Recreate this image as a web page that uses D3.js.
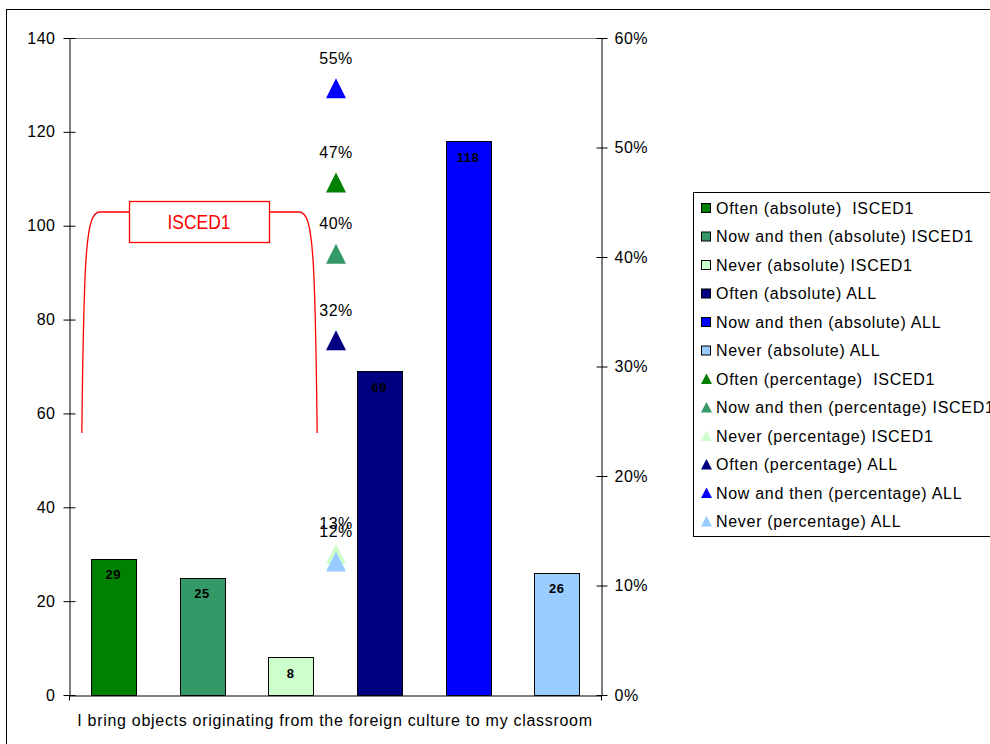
<!DOCTYPE html>
<html>
<head>
<meta charset="utf-8">
<script src="https://cdn.jsdelivr.net/npm/d3@7/dist/d3.min.js"></script>
<style>
  html, body { margin: 0; padding: 0; background: #fff; }
  svg { display: block; }
</style>
</head>
<body>
<script>
// Survey item shown on the category axis
const categories = ["I bring objects originating from the foreign culture to my classroom"];

// Absolute answers (bars, left axis)
const barSeries = [
  "Often (absolute)  ISCED1",
  "Now and then (absolute) ISCED1",
  "Never (absolute) ISCED1",
  "Often (absolute) ALL",
  "Now and then (absolute) ALL",
  "Never (absolute) ALL"
];
const barValues = [29, 25, 8, 69, 118, 26];
const barColors = ["#008000", "#339966", "#CCFFCC", "#000080", "#0000FF", "#99CCFF"];

// Shares of answers (triangles, right axis)
const pctSeries = [
  "Often (percentage)  ISCED1",
  "Now and then (percentage) ISCED1",
  "Never (percentage) ISCED1",
  "Often (percentage) ALL",
  "Now and then (percentage) ALL",
  "Never (percentage) ALL"
];
const pctValues = [0.468, 0.403, 0.129, 0.324, 0.554, 0.122];
const pctColors = ["#008000", "#339966", "#CCFFCC", "#000080", "#0000FF", "#99CCFF"];

// Axis ticks
const leftTicks = [0, 20, 40, 60, 80, 100, 120, 140];
const rightTicks = [0, 0.1, 0.2, 0.3, 0.4, 0.5, 0.6];

// Bracket note over the ISCED1 bars
const noteText = "ISCED1";

const W = 990, H = 744;
const font = "'Liberation Sans', Arial, sans-serif";
const spacing = "0.7px";
const plot = { left: 69, right: 601, top: 38, bottom: 695 };

const svg = d3.select("body").append("svg")
  .attr("width", W).attr("height", H)
  .style("font-family", font);

// Chart frame
svg.append("rect")
  .attr("x", 6.5).attr("y", 9.5)
  .attr("width", 1100).attr("height", 900)
  .attr("fill", "#fff").attr("stroke", "#000").attr("stroke-width", 1);

// Scales
const x0 = d3.scaleBand().domain(categories).range([plot.left, plot.right]).padding(0);
const pad = 1 - 45 / ((plot.right - plot.left) / barSeries.length);
const x1 = d3.scaleBand().domain(barSeries).range([0, x0.bandwidth()])
  .paddingInner(pad).paddingOuter(pad / 2);
const y = d3.scaleLinear().domain([0, 140]).range([plot.bottom, plot.top]);
const yp = d3.scaleLinear().domain([0, 0.6]).range([plot.bottom, plot.top]);

// Plot area top edge
svg.append("line")
  .attr("x1", plot.left).attr("x2", plot.right)
  .attr("y1", plot.top + 0.5).attr("y2", plot.top + 0.5)
  .attr("stroke", "#808080");

// Bars
const cat = categories[0];
const bars = barSeries.map((s, i) => ({ s, v: barValues[i], c: barColors[i] }));
svg.append("g").selectAll("rect").data(bars).join("rect")
  .attr("x", d => Math.round(x0(cat) + x1(d.s)) + 0.5)
  .attr("y", d => Math.round(y(d.v)) + 0.5)
  .attr("width", Math.round(x1.bandwidth()))
  .attr("height", d => Math.round(y(0)) - Math.round(y(d.v)))
  .attr("fill", d => d.c)
  .attr("stroke", "#000").attr("stroke-width", 1);

svg.append("g").selectAll("text").data(bars).join("text")
  .attr("x", d => x0(cat) + x1(d.s) + x1.bandwidth() / 2)
  .attr("y", d => y(d.v) + 20.5)
  .attr("text-anchor", "middle")
  .attr("font-size", 13).attr("font-weight", "bold")
  .attr("letter-spacing", "0.5px")
  .attr("fill", "#000")
  .text(d => d.v);

// Left axis
const gL = svg.append("g")
  .attr("transform", `translate(${plot.left + 0.5},0)`)
  .call(d3.axisLeft(y).tickValues(leftTicks).tickSize(6).tickPadding(8).tickSizeOuter(0));
gL.selectAll(".tick line").attr("x1", 6);
gL.selectAll("text").attr("font-size", 16).attr("font-family", font)
  .attr("letter-spacing", "0.5px").attr("fill", "#000");
gL.select(".domain").attr("stroke", "#000");

// Right axis
const gR = svg.append("g")
  .attr("transform", `translate(${plot.right + 0.5},0)`)
  .call(d3.axisRight(yp).tickValues(rightTicks).tickFormat(d3.format(".0%"))
    .tickSize(6).tickPadding(7).tickSizeOuter(0));
gR.selectAll(".tick line").attr("x1", -5);
gR.selectAll("text").attr("font-size", 16).attr("font-family", font)
  .attr("letter-spacing", "0.5px").attr("fill", "#000");

// Category axis
const gB = svg.append("g")
  .attr("transform", `translate(0,${plot.bottom + 0.5})`)
  .call(d3.axisBottom(x0).tickSize(0).tickPadding(19).tickSizeOuter(5));
gB.selectAll("text").attr("font-size", 16).attr("font-family", font)
  .attr("letter-spacing", spacing).attr("fill", "#000");
gB.select(".domain").attr("stroke", "#000");

// Percentage triangles with labels
const tri = "M0,-10L10,10L-10,10Z";
const pts = pctSeries.map((s, i) => ({ s, v: pctValues[i], c: pctColors[i] }));
const cx = x0(cat) + x0.bandwidth() / 2 + 1;
const gP = svg.append("g");
pts.forEach(d => {
  gP.append("path")
    .attr("d", tri)
    .attr("transform", `translate(${cx},${yp(d.v)})`)
    .attr("fill", d.c);
  gP.append("text")
    .attr("x", cx).attr("y", yp(d.v) - 30)
    .attr("dy", "0.35em")
    .attr("text-anchor", "middle")
    .attr("font-size", 16).attr("letter-spacing", "0.5px").attr("fill", "#000")
    .text(d3.format(".0%")(d.v));
});

// ISCED1 bracket
const bxL = x0(cat) + x1(barSeries[0]) - 9;
const bxR = x0(cat) + x1(barSeries[2]) + x1.bandwidth() + 4;
const byTop = 212, byBot = 433;
const gN = svg.append("g");
gN.append("path")
  .attr("d", `M${bxL},${byBot} C${bxL + 2},${byTop + 40} ${bxL + 4},${byTop} ${bxL + 18},${byTop} L${bxR - 18},${byTop} C${bxR - 4},${byTop} ${bxR - 2},${byTop + 40} ${bxR},${byBot}`)
  .attr("fill", "none").attr("stroke", "#FF0000").attr("stroke-width", 1.3);
gN.append("rect")
  .attr("x", 129.5).attr("y", 201.5).attr("width", 140).attr("height", 41)
  .attr("fill", "#fff").attr("stroke", "#FF0000").attr("stroke-width", 1.3);
gN.append("text")
  .attr("x", 199).attr("y", 222).attr("dy", "0.35em")
  .attr("text-anchor", "middle")
  .attr("font-size", 21).attr("fill", "#FF0000")
  .attr("textLength", 63).attr("lengthAdjust", "spacingAndGlyphs")
  .text(noteText);

// Legend
const lg = svg.append("g");
lg.append("rect")
  .attr("x", 693.5).attr("y", 192.5).attr("width", 400).attr("height", 344)
  .attr("fill", "#fff").attr("stroke", "#000");
const rowY = i => 208 + i * 28.5;
barSeries.forEach((s, i) => {
  lg.append("rect")
    .attr("x", 701.5).attr("y", rowY(i) - 4.5).attr("width", 9).attr("height", 9)
    .attr("fill", barColors[i]).attr("stroke", "#000");
  lg.append("text")
    .attr("x", 716).attr("y", rowY(i)).attr("dy", "0.35em")
    .attr("font-size", 16).attr("letter-spacing", spacing).attr("fill", "#000")
    .attr("xml:space", "preserve")
    .text(s);
});
pctSeries.forEach((s, j) => {
  const i = j + barSeries.length;
  lg.append("path")
    .attr("d", "M0,-5.5L5.5,5L-5.5,5Z")
    .attr("transform", `translate(706.5,${rowY(i)})`)
    .attr("fill", pctColors[j]);
  lg.append("text")
    .attr("x", 716).attr("y", rowY(i)).attr("dy", "0.35em")
    .attr("font-size", 16).attr("letter-spacing", spacing).attr("fill", "#000")
    .attr("xml:space", "preserve")
    .text(s);
});
</script>
</body>
</html>
